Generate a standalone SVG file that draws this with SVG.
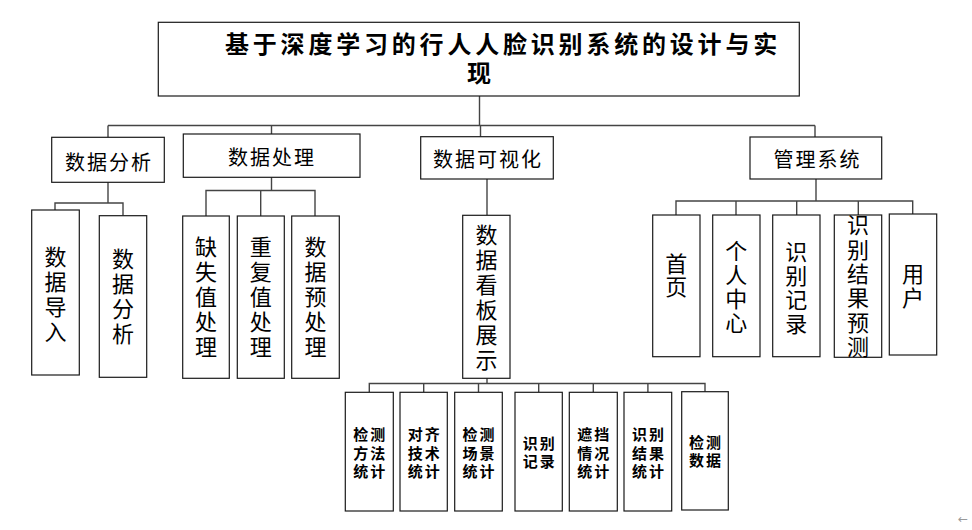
<svg xmlns="http://www.w3.org/2000/svg" width="972" height="530" viewBox="0 0 972 530">
<style>
rect{fill:#fff;stroke:#1a1a1a;stroke-width:1.2}
.c line,.c polyline{stroke:#444;stroke-width:1.4;fill:none}
text{font-family:"Noto Sans CJK SC","Noto Sans",sans-serif;fill:#000;text-anchor:middle;dominant-baseline:central}
.t{font-size:24px;font-weight:bold;letter-spacing:3.8px;text-anchor:start}
.l1{font-size:20px;letter-spacing:2px}
.v{font-size:22px;writing-mode:vertical-rl;text-orientation:upright;letter-spacing:3px}
.b{font-size:15px;font-weight:bold;letter-spacing:2px}
</style>
<rect width="972" height="530" style="fill:#fff;stroke:none"/>
<g class="c" id="connectors">
<line x1="479.5" y1="96" x2="479.5" y2="125.5"/>
<line x1="108" y1="125.5" x2="815" y2="125.5"/>
<line x1="108" y1="125.5" x2="108" y2="137"/>
<line x1="271.5" y1="125.5" x2="271.5" y2="134"/>
<line x1="480.5" y1="125.5" x2="480.5" y2="137"/>
<line x1="815" y1="125.5" x2="815" y2="137"/>
<line x1="108" y1="182" x2="108" y2="203"/>
<polyline points="55,210 55,203 123,203 123,215.5"/>
<line x1="271.5" y1="177" x2="271.5" y2="190.5"/>
<polyline points="206,216 206,190.5 315,190.5 315,216"/>
<line x1="260.7" y1="190.5" x2="260.7" y2="216"/>
<line x1="487" y1="179" x2="487" y2="215"/>
<line x1="487" y1="378" x2="487" y2="383.5"/>
<polyline points="369.3,392 369.3,383.5 705,383.5 705,392"/>
<line x1="423.7" y1="383.5" x2="423.7" y2="392"/>
<line x1="478.5" y1="383.5" x2="478.5" y2="392"/>
<line x1="538.7" y1="383.5" x2="538.7" y2="392"/>
<line x1="593.3" y1="383.5" x2="593.3" y2="392"/>
<line x1="647.9" y1="383.5" x2="647.9" y2="392"/>
<line x1="816" y1="179" x2="816" y2="201"/>
<polyline points="676,215 676,201 912.7,201 912.7,214"/>
<line x1="736" y1="201" x2="736" y2="215"/>
<line x1="796.7" y1="201" x2="796.7" y2="215"/>
<line x1="858.3" y1="201" x2="858.3" y2="215"/>
</g>
<g id="title">
<rect x="158.3" y="22.3" width="641" height="73.7"/>
<text class="t" x="225" y="42">基于深度学习的行人人脸识别系统的设计与实</text>
<text class="t" x="467" y="71">现</text>
</g>
<g id="n_fx">
<rect x="51.7" y="137.3" width="112.6" height="45"/>
<text class="l1" x="109" y="161">数据分析</text>
</g>
<g id="n_cl">
<rect x="183.3" y="134" width="176.7" height="43.3"/>
<text class="l1" x="272" y="156.5">数据处理</text>
</g>
<g id="n_ksh">
<rect x="420.7" y="136.7" width="132.6" height="42.3"/>
<text class="l1" x="488" y="158.3">数据可视化</text>
</g>
<g id="n_gl">
<rect x="750" y="137" width="131.7" height="42"/>
<text class="l1" x="817.5" y="158.3">管理系统</text>
</g>
<g id="n_dr">
<rect x="31.7" y="210" width="47.6" height="165"/>
<text class="v" x="55.5" y="295.7">数据导入</text>
</g>
<g id="n_fx2">
<rect x="99.3" y="215.7" width="47.4" height="161.6"/>
<text class="v" x="123" y="297.3">数据分析</text>
</g>
<g id="n_qs">
<rect x="182.7" y="216" width="46.6" height="162.3"/>
<text class="v" x="206" y="298.2">缺失值处理</text>
</g>
<g id="n_cf">
<rect x="237.3" y="216" width="47" height="162.3"/>
<text class="v" x="260.7" y="298.2">重复值处理</text>
</g>
<g id="n_yc">
<rect x="291.7" y="216" width="47.6" height="162.3"/>
<text class="v" x="315.5" y="298.2">数据预处理</text>
</g>
<g id="n_kb">
<rect x="462.7" y="215.3" width="47.3" height="163"/>
<text class="v" x="486.5" y="298.3">数据看板展示</text>
</g>
<g id="n_sy">
<rect x="652.7" y="215" width="47.3" height="141.7"/>
<text class="v" x="676.3" y="276" style="letter-spacing:1px">首页</text>
</g>
<g id="n_gr">
<rect x="712.7" y="215" width="47.3" height="141.7"/>
<text class="v" x="736.3" y="287.5" style="letter-spacing:2px">个人中心</text>
</g>
<g id="n_sbjl">
<rect x="772.7" y="215" width="47.3" height="141.7"/>
<text class="v" x="796.3" y="288.6" style="letter-spacing:2px">识别记录</text>
</g>
<g id="n_yc2">
<rect x="834.3" y="215" width="47.4" height="142.3"/>
<text class="v" x="858" y="287" style="letter-spacing:2.3px">识别结果预测</text>
</g>
<g id="n_yh">
<rect x="889.3" y="214" width="47.4" height="141"/>
<text class="v" x="913" y="286.2" style="letter-spacing:2px">用户</text>
</g>
<g id="n_b1">
<rect x="345.3" y="392.3" width="48" height="118.7"/>
<text class="b"><tspan x="370.3" y="433.3">检测</tspan><tspan x="370.3" y="451.7">方法</tspan><tspan x="370.3" y="470">统计</tspan></text>
</g>
<g id="n_b2">
<rect x="400" y="392.3" width="47.3" height="118.7"/>
<text class="b"><tspan x="424.7" y="433.3">对齐</tspan><tspan x="424.7" y="451.7">技术</tspan><tspan x="424.7" y="470">统计</tspan></text>
</g>
<g id="n_b3">
<rect x="454.7" y="392.3" width="47.6" height="118.7"/>
<text class="b"><tspan x="479.5" y="433.3">检测</tspan><tspan x="479.5" y="451.7">场景</tspan><tspan x="479.5" y="470">统计</tspan></text>
</g>
<g id="n_b4">
<rect x="515" y="392.3" width="47.3" height="118.7"/>
<text class="b"><tspan x="539.7" y="441.7">识别</tspan><tspan x="539.7" y="460">记录</tspan></text>
</g>
<g id="n_b5">
<rect x="569.3" y="392.3" width="48" height="118.7"/>
<text class="b"><tspan x="594.3" y="433.3">遮挡</tspan><tspan x="594.3" y="451.7">情况</tspan><tspan x="594.3" y="470">统计</tspan></text>
</g>
<g id="n_b6">
<rect x="624" y="392.3" width="47.7" height="118.7"/>
<text class="b"><tspan x="648.9" y="433.3">识别</tspan><tspan x="648.9" y="451.7">结果</tspan><tspan x="648.9" y="470">统计</tspan></text>
</g>
<g id="n_b7">
<rect x="681.7" y="391.7" width="46.6" height="118.3"/>
<text class="b"><tspan x="706" y="440.7">检测</tspan><tspan x="706" y="459.3">数据</tspan></text>
</g>
<text x="963" y="519" style="font-size:12px;fill:#999;font-family:'DejaVu Sans',sans-serif">←</text>
</svg>
